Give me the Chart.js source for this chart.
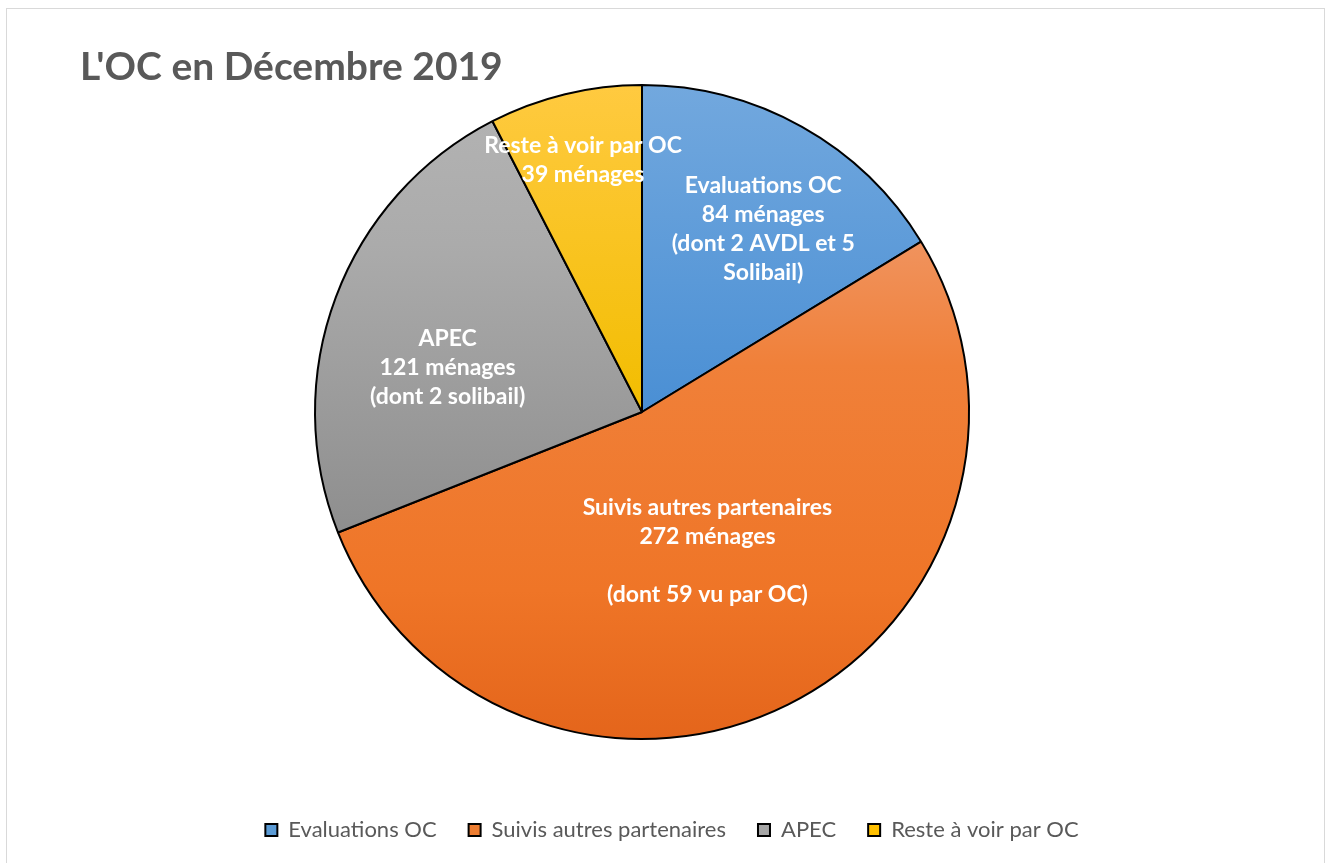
<!DOCTYPE html>
<html>
<head>
<meta charset="utf-8">
<script src="https://cdn.jsdelivr.net/npm/chart.js@4.4.1/dist/chart.umd.min.js"></script>
<style>
  html, body { margin: 0; padding: 0; background: #fff; }
  #frame { position: absolute; left: 6px; top: 8px; width: 1317px; height: 900px; border: 1px solid #d9d9d9; }
  #wrap { position: absolute; left: 0; top: 0; width: 1326px; height: 863px; }
</style>
</head>
<body>
<div id="frame"></div>
<div id="wrap"><canvas id="myChart"></canvas></div>
<script>
// data
const categories = ['Evaluations OC', 'Suivis autres partenaires', 'APEC', 'Reste à voir par OC'];
const menages = [84, 272, 121, 39];
const details = [['(dont 2 AVDL et 5', 'Solibail)'], ['', '(dont 59 vu par OC)'], ['(dont 2 solibail)'], []];
const titleText = "L'OC en Décembre 2019";

// colours: gradient stops of each slice (top -> bottom), solid ones for the legend
const sliceStops = [
    [[0, '#72a8de'], [1, '#4a8fd4']],
    [[0, '#f0935e'], [0.25, '#f08039'], [0.7, '#ef7527'], [1, '#e4651b']],
    [[0, '#b2b2b2'], [0.3, '#ababab'], [1, '#8e8e8e']],
    [[0, '#ffca40'], [1, '#f2bd00']]
];
const legendColors = ['#5b9bd5', '#ed7d31', '#a5a5a5', '#ffc000'];

const PIE_RADIUS = 327;
// where the labels sit: fraction of radius, angle tweak in degrees
const labelDist = [0.67, 0.47, 0.61, 0.79];
const labelTurn = [4.3, 1.3, -7.6, 0.4];

// vertical extent of each slice, used for its gradient
function sliceExtent(i, cy) {
    const total = menages.reduce((a, b) => a + b, 0);
    let before = 0;
    for (let k = 0; k < i; k++) before += menages[k];
    const a0 = before / total * 2 * Math.PI;
    const a1 = (before + menages[i]) / total * 2 * Math.PI;
    const ys = [cy, cy - PIE_RADIUS * Math.cos(a0), cy - PIE_RADIUS * Math.cos(a1)];
    if (a0 <= 0.0001) ys.push(cy - PIE_RADIUS);
    if (a0 <= Math.PI && a1 >= Math.PI) ys.push(cy + PIE_RADIUS);
    return [Math.min(...ys), Math.max(...ys)];
}

function sliceFill(context) {
    const chart = context.chart;
    const area = chart.chartArea;
    const i = context.dataIndex;
    if (!area) return legendColors[i];
    const cy = (area.top + area.bottom) / 2;
    const ext = sliceExtent(i, cy);
    const g = chart.ctx.createLinearGradient(0, ext[0], 0, ext[1]);
    sliceStops[i].forEach(s => g.addColorStop(s[0], s[1]));
    return g;
}

const sliceLabels = {
    id: 'sliceLabels',
    afterDatasetsDraw(chart) {
        const ctx = chart.ctx;
        const meta = chart.getDatasetMeta(0);
        ctx.save();
        ctx.fillStyle = '#ffffff';
        ctx.font = 'bold 23px Lato';
        ctx.textAlign = 'center';
        ctx.textBaseline = 'middle';
        meta.data.forEach((arc, i) => {
            const p = arc.getProps(['x', 'y', 'startAngle', 'endAngle', 'outerRadius'], true);
            const mid = (p.startAngle + p.endAngle) / 2 + labelTurn[i] * Math.PI / 180;
            const cx = p.x + Math.cos(mid) * p.outerRadius * labelDist[i];
            const cy = p.y + Math.sin(mid) * p.outerRadius * labelDist[i];
            const lines = [categories[i], menages[i] + ' ménages'].concat(details[i]);
            const lh = 29;
            lines.forEach((t, j) => {
                ctx.fillText(t, cx, cy + (j - (lines.length - 1) / 2) * lh);
            });
        });
        ctx.restore();
    }
};

const titleDraw = {
    id: 'titleDraw',
    afterDraw(chart) {
        const ctx = chart.ctx;
        ctx.save();
        ctx.fillStyle = '#595959';
        ctx.font = 'bold 39px Lato';
        ctx.textAlign = 'left';
        ctx.textBaseline = 'middle';
        ctx.fillText(titleText, 80, 67);
        ctx.restore();
    }
};

// excel centres the legend on the frame, not on the pie
const legendShift = {
    id: 'legendShift',
    afterLayout(chart) {
        chart.legend.left += 30;
        chart.legend.right += 30;
    }
};

const ctx = document.getElementById('myChart').getContext('2d');
const chart = new Chart(ctx, {
    type: 'pie',
    data: {
        labels: categories,
        datasets: [{
            data: menages,
            backgroundColor: sliceFill,
            borderColor: '#000000',
            borderWidth: 2
        }]
    },
    options: {
        responsive: true,
        maintainAspectRatio: false,
        animation: false,
        radius: PIE_RADIUS,
        layout: { padding: { top: 37, bottom: 12, left: 0, right: 42 } },
        plugins: {
            tooltip: { enabled: false },
            legend: {
                position: 'bottom',
                labels: {
                    color: '#595959',
                    font: { family: 'Lato', size: 22 },
                    boxWidth: 12,
                    boxHeight: 12,
                    padding: 32,
                    generateLabels(chart) {
                        return categories.map((c, i) => ({
                            text: c,
                            fillStyle: legendColors[i],
                            strokeStyle: '#000000',
                            lineWidth: 2,
                            fontColor: '#595959',
                            index: i
                        }));
                    }
                }
            }
        }
    },
    plugins: [sliceLabels, titleDraw, legendShift]
});
</script>
</body>
</html>
